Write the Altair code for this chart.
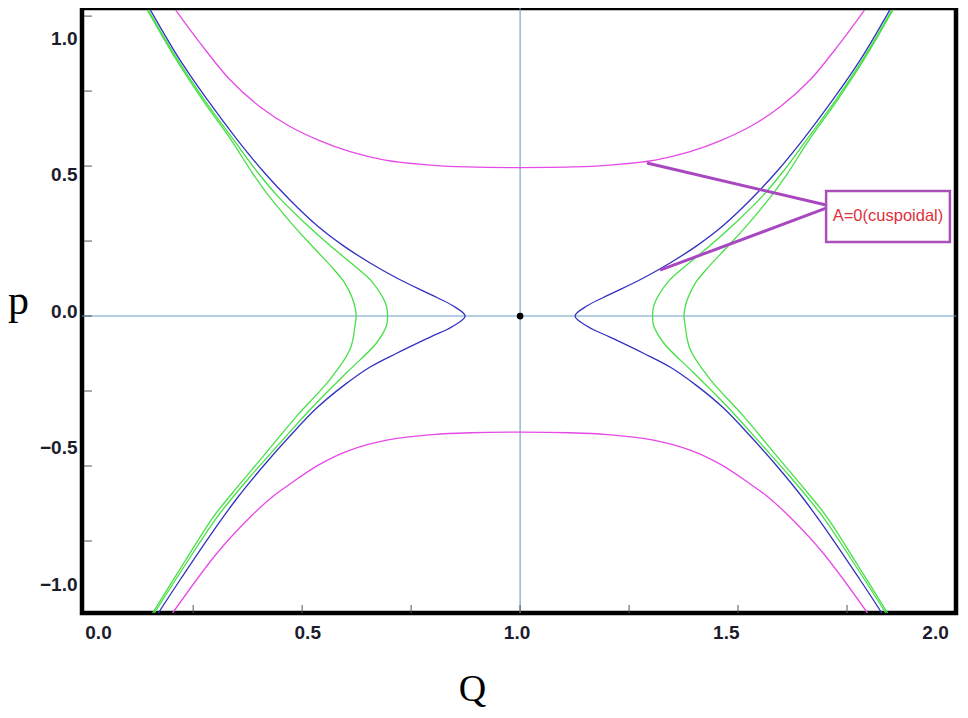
import altair as alt
import pandas as pd

# ---------------- data ----------------
# magenta (upper)
mag_up_Q = [0.210, 0.266, 0.335, 0.404, 0.472, 0.540, 0.610, 0.690, 0.780, 0.880, 1.000,
            1.120, 1.220, 1.310, 1.390, 1.460, 1.528, 1.596, 1.665, 1.734, 1.790]
mag_up_p = [1.020, 0.910, 0.787, 0.697, 0.632, 0.585, 0.548, 0.520, 0.505, 0.497, 0.495,
            0.497, 0.505, 0.520, 0.548, 0.585, 0.632, 0.697, 0.787, 0.910, 1.020]
# magenta (lower)
mag_lo_Q = [0.203, 0.305, 0.381, 0.434, 0.472, 0.537, 0.610, 0.700, 0.800, 0.885, 1.000,
            1.115, 1.200, 1.300, 1.390, 1.463, 1.528, 1.566, 1.619, 1.695, 1.797]
mag_lo_p = [-0.990, -0.790, -0.670, -0.600, -0.560, -0.497, -0.447, -0.412, -0.395, -0.389, -0.387,
            -0.389, -0.395, -0.412, -0.447, -0.497, -0.560, -0.600, -0.670, -0.790, -0.990]
# blue, left branch (top -> tip -> bottom)
blue_L_Q = [0.152, 0.220, 0.282, 0.350, 0.411, 0.472, 0.534, 0.595, 0.656, 0.717, 0.794, 0.845, 0.874,
            0.845, 0.794, 0.717, 0.656, 0.595, 0.534, 0.472, 0.411, 0.352, 0.292, 0.222, 0.170]
blue_L_p = [1.020, 0.853, 0.722, 0.590, 0.482, 0.387, 0.302, 0.234, 0.177, 0.127, 0.072, 0.035, 0.000,
            -0.035, -0.070, -0.124, -0.170, -0.232, -0.306, -0.400, -0.500, -0.605, -0.725, -0.875, -0.990]
# blue, right branch
blue_R_Q = [1.848, 1.780, 1.718, 1.650, 1.589, 1.528, 1.466, 1.405, 1.344, 1.283, 1.206, 1.155, 1.126,
            1.155, 1.206, 1.283, 1.344, 1.405, 1.466, 1.528, 1.589, 1.648, 1.708, 1.778, 1.830]
blue_R_p = blue_L_p
# green (inner), left
gin_L_Q = [0.147, 0.215, 0.276, 0.343, 0.397, 0.445, 0.510, 0.568, 0.622, 0.660, 0.684, 0.694, 0.696,
           0.694, 0.671, 0.602, 0.526, 0.450, 0.378, 0.305, 0.236, 0.161]
gin_L_p = [1.020, 0.853, 0.720, 0.587, 0.481, 0.398, 0.305, 0.230, 0.165, 0.115, 0.065, 0.030, 0.000,
           -0.030, -0.089, -0.189, -0.300, -0.422, -0.540, -0.670, -0.820, -0.990]
# green (inner), right
gin_R_Q = [1.853, 1.785, 1.724, 1.657, 1.603, 1.555, 1.490, 1.432, 1.378, 1.340, 1.316, 1.306, 1.304,
           1.306, 1.329, 1.398, 1.474, 1.550, 1.622, 1.695, 1.764, 1.839]
gin_R_p = gin_L_p
# green (outer), left
gout_L_Q = [0.145, 0.212, 0.272, 0.337, 0.384, 0.425, 0.478, 0.525, 0.567, 0.598, 0.615, 0.622, 0.624,
            0.622, 0.610, 0.564, 0.488, 0.411, 0.340, 0.296, 0.230, 0.157]
gout_L_p = [1.020, 0.853, 0.720, 0.587, 0.481, 0.398, 0.305, 0.230, 0.165, 0.110, 0.060, 0.025, 0.000,
            -0.025, -0.111, -0.211, -0.333, -0.467, -0.590, -0.670, -0.820, -0.990]
# green (outer), right
gout_R_Q = [1.855, 1.788, 1.728, 1.663, 1.616, 1.575, 1.522, 1.475, 1.433, 1.402, 1.385, 1.378, 1.376,
            1.378, 1.390, 1.436, 1.512, 1.589, 1.660, 1.704, 1.770, 1.843]
gout_R_p = gout_L_p

# annotation (leader lines and box), in data units
lead_Q1 = [1.291, 1.321]
lead_p1 = [0.510, 0.153]
lead_Q2 = [1.702, 1.702]
lead_p2 = [0.370, 0.360]
box_Q = [1.702, 1.986]
box_p = [0.247, 0.417]
note_text = "A=0(cuspoidal)"

# tick values
x_ticks = [0.25, 0.5, 0.75, 1.0, 1.25, 1.5, 1.75]
y_ticks = [-0.75, -0.5, -0.25, 0.0, 0.25, 0.5, 0.75, 1.0]
x_labels = [0.0, 0.5, 1.0, 1.5, 2.0]
y_labels = [-1.0, -0.5, 0.0, 0.5, 1.0]

# ---------------- build tables ----------------
curves = [
    ("mag_up", "magenta", mag_up_Q, mag_up_p),
    ("mag_lo", "magenta", mag_lo_Q, mag_lo_p),
    ("gout_L", "green", gout_L_Q, gout_L_p),
    ("gout_R", "green", gout_R_Q, gout_R_p),
    ("gin_L", "green", gin_L_Q, gin_L_p),
    ("gin_R", "green", gin_R_Q, gin_R_p),
    ("blue_L", "blue", blue_L_Q, blue_L_p),
    ("blue_R", "blue", blue_R_Q, blue_R_p),
]
rows = []
for name, fam, qs, ps in curves:
    for i, (q, p) in enumerate(zip(qs, ps)):
        rows.append({"curve": name, "family": fam, "Q": q, "p": p, "i": i})
df_curves = pd.DataFrame(rows)

W, H = 874, 605
xs = alt.Scale(domain=[-0.005, 2.0], nice=False, zero=False)
ys = alt.Scale(domain=[-0.99, 1.027], nice=False, zero=False)

xaxis = alt.Axis(title="Q", labels=False, ticks=False, domain=False, grid=False,
                 titleFont="Liberation Serif", titleFontSize=38, titleFontWeight="normal",
                 titleColor="#000000", titleX=390, titleY=87, titleAlign="center",
                 titleBaseline="alphabetic", titleAngle=0)
yaxis = alt.Axis(title="p", labels=False, ticks=False, domain=False, grid=False,
                 titleFont="Liberation Serif", titleFontSize=42, titleFontWeight="normal",
                 titleColor="#000000", titleX=-64, titleY=305, titleAlign="center",
                 titleBaseline="alphabetic", titleAngle=0)

X = lambda f="Q": alt.X(f"{f}:Q", scale=xs, axis=xaxis)
Y = lambda f="p": alt.Y(f"{f}:Q", scale=ys, axis=yaxis)

base_lines = alt.Chart(pd.DataFrame({"Q": [1.0], "p": [0.0]}))
vline = base_lines.mark_rule(color="#6a9ec8", strokeWidth=1.1).encode(x=X())
hline = base_lines.mark_rule(color="#6a9ec8", strokeWidth=1.1).encode(y=Y())

curve_layer = alt.Chart(df_curves).mark_line(strokeWidth=1.3, interpolate="catmull-rom", clip=True).encode(
    x=X(), y=Y(), detail="curve:N", order="i:Q",
    color=alt.Color("family:N", legend=None,
                    scale=alt.Scale(domain=["magenta", "green", "blue"],
                                    range=["#e64ae6", "#46e046", "#3232c0"])),
)

dot = base_lines.mark_point(filled=True, color="#000000", size=45, opacity=1).encode(x=X(), y=Y())

xt = alt.Chart(pd.DataFrame({"Q": x_ticks})).mark_rule(color="#555555", strokeWidth=1).encode(
    x=X(), y=alt.value(H - 8), y2=alt.value(H))
yt = alt.Chart(pd.DataFrame({"p": y_ticks})).mark_rule(color="#555555", strokeWidth=1).encode(
    y=Y(), x=alt.value(2), x2=alt.value(10))

df_lead = pd.DataFrame({"Q": lead_Q1, "p": lead_p1, "Q2": lead_Q2, "p2": lead_p2})
leads = alt.Chart(df_lead).mark_rule(color="#a848c0", strokeWidth=3).encode(
    x=X(), y=Y(), x2="Q2:Q", y2="p2:Q")

df_box = pd.DataFrame({"Q": [box_Q[0]], "Q2": [box_Q[1]], "p": [box_p[0]], "p2": [box_p[1]]})
box = alt.Chart(df_box).mark_rect(fill="#ffffff", stroke="#a850b8", strokeWidth=2.5).encode(
    x=X(), x2="Q2:Q", y=Y(), y2="p2:Q")

df_note = pd.DataFrame({"Q": [(box_Q[0] + box_Q[1]) / 2], "p": [(box_p[0] + box_p[1]) / 2],
                        "t": [note_text]})
note = alt.Chart(df_note).mark_text(font="Liberation Sans", fontSize=16.5, color="#e0303c",
                                    align="center", baseline="middle").encode(
    x=X(), y=Y(), text="t:N")

main = alt.layer(vline, hline, curve_layer, dot, xt, yt, leads, box, note)

# tick label layer (labels sit on their own, slightly compressed scale as in the picture)
df_lab = pd.DataFrame({"lx": x_labels, "ly": y_labels})
labels = alt.Chart(df_lab).mark_point(opacity=0).encode(
    x=alt.X("lx:Q", scale=alt.Scale(domain=[-0.0382, 2.050], nice=False, zero=False),
            axis=alt.Axis(orient="bottom", values=x_labels, format=".1f", title=None,
                          ticks=False, tickSize=0, domain=False, grid=False,
                          labelFont="Liberation Sans", labelFontWeight="bold", labelFontSize=19,
                          labelColor="#1c1c2c", labelPadding=19, labelBaseline="middle",
                          labelFlush=False, labelOverlap=False)),
    y=alt.Y("ly:Q", scale=alt.Scale(domain=[-1.106, 1.110], nice=False, zero=False),
            axis=alt.Axis(orient="left", values=y_labels, format=".1f", title=None,
                          ticks=False, tickSize=0, domain=False, grid=False,
                          labelFont="Liberation Sans", labelFontWeight="bold", labelFontSize=19,
                          labelColor="#1c1c2c", labelPadding=5,
                          labelFlush=False, labelOverlap=False)),
)

chart = alt.layer(main, labels).resolve_scale(x="independent", y="independent").properties(
    width=W, height=H,
    background="#ffffff",
    autosize=alt.AutoSizeParams(type="none"),
    padding={"left": 74, "top": 0, "right": 4, "bottom": 100},
).configure_view(stroke="#000000", strokeWidth=4.5)

chart.save("out.html", embed_options={"renderer": "svg", "actions": False})
